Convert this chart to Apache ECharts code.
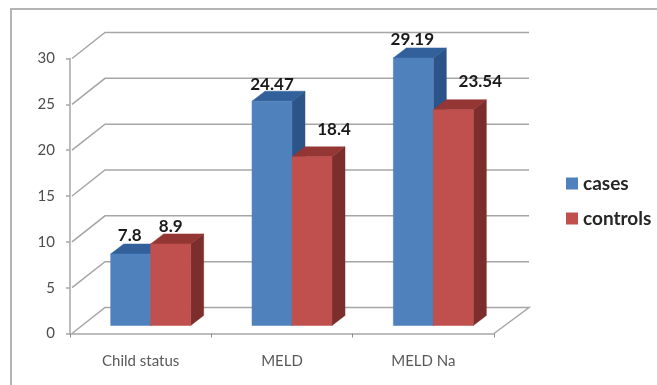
<!DOCTYPE html>
<html>
<head>
<meta charset="utf-8">
<style>
  html, body { margin: 0; padding: 0; background: #fff; }
  #chart { width: 657px; height: 385px; }
</style>
<script src="https://cdn.jsdelivr.net/npm/echarts@6/dist/echarts.min.js"></script>
</head>
<body>
<div id="chart"></div>
<script>
// Scores by group
const categories = ['Child status', 'MELD', 'MELD Na'];
const cases = [7.8, 24.47, 29.19];
const controls = [8.9, 18.4, 23.54];
const yTicks = [0, 5, 10, 15, 20, 25, 30];

// Pseudo-3D projection of the chart box and columns, in pixels
const WALL_DX = 35, WALL_DY = -26;
const BAR_SHIFT_X = 10, BAR_SHIFT_Y = -8;
const BAR_W = 40, BAR_DX = 13, BAR_DY = -10;
const GRID_LINE = { stroke: '#a6a6a6', lineWidth: 1.5 };

const faces = {
  cases:    { front: '#4f81bd', top: '#31609a', side: '#2c5488', labelDx: [-1, 0, -1],  labelDy: [-18, -17, -18] },
  controls: { front: '#c0504d', top: '#943634', side: '#7b2e2c', labelDx: [0, 22, 27], labelDy: [-17, -27, -28] }
};

const FONT = 'Lato';

function renderWall(params, api) {
  const val = api.value(0);
  const xLeft = params.coordSys.x;
  const xRight = xLeft + params.coordSys.width;
  const y = api.coord([0, val])[1];
  const pts = [
    [xLeft + 2, y],
    [xLeft + WALL_DX, y + WALL_DY],
    [xRight + WALL_DX, y + WALL_DY]
  ];
  if (val === 0) pts.push([xRight, y]);
  return {
    type: 'polyline', silent: true,
    shape: { points: pts },
    style: Object.assign({ fill: null }, GRID_LINE)
  };
}

function makeBarRenderer(key, sign) {
  return function (params, api) {
    const f = faces[key];
    const cat = api.value(0), val = api.value(1);
    const top = api.coord([cat, val]);
    const base = api.coord([cat, 0]);
    const x0 = top[0] + BAR_SHIFT_X + (sign < 0 ? -BAR_W : 0);
    const x1 = x0 + BAR_W;
    const yTop = top[1] + BAR_SHIFT_Y;
    const yBase = base[1] + BAR_SHIFT_Y;
    const poly = (points, fill) => ({
      type: 'polygon', shape: { points }, style: { fill, stroke: fill, lineWidth: 0.5 }
    });
    return {
      type: 'group',
      children: [
        poly([[x1, yTop], [x1 + BAR_DX, yTop + BAR_DY], [x1 + BAR_DX, yBase + BAR_DY], [x1, yBase]], f.side),
        poly([[x0, yTop], [x0 + BAR_DX, yTop + BAR_DY], [x1 + BAR_DX, yTop + BAR_DY], [x1, yTop]], f.top),
        poly([[x0, yTop], [x1, yTop], [x1, yBase], [x0, yBase]], f.front),
        {
          type: 'text', z2: 10,
          style: {
            x: (x0 + x1) / 2 + f.labelDx[cat],
            y: yTop + f.labelDy[cat],
            text: String(val),
            fill: '#1a1a1a',
            font: 'bold 17px ' + FONT,
            align: 'center',
            verticalAlign: 'middle'
          }
        }
      ]
    };
  };
}

const chart = echarts.init(document.getElementById('chart'), null, { renderer: 'canvas' });

chart.setOption({
  animation: false,
  backgroundColor: '#fff',
  graphic: [{
    type: 'polyline', silent: true,
    shape: { points: [[11, 390], [11, 9], [665, 9]] },
    style: { fill: null, stroke: '#b4b4b4', lineWidth: 2 }
  }],
  grid: { left: 70, top: 58.5, width: 424, height: 275, containLabel: false },
  xAxis: {
    type: 'category',
    data: categories,
    boundaryGap: true,
    axisLine: { lineStyle: { color: '#a6a6a6', width: 1.5 } },
    axisTick: { show: true, alignWithLabel: false, length: 4, lineStyle: { color: '#8c8c8c', width: 1 } },
    axisLabel: { color: '#595959', fontFamily: FONT, fontSize: 15, margin: 20 },
    splitLine: { show: false }
  },
  yAxis: {
    type: 'value',
    min: 0, max: 30, interval: 5,
    axisLine: { show: true, lineStyle: { color: '#a6a6a6', width: 1.5 } },
    axisTick: { show: true, length: 4, lineStyle: { color: '#a6a6a6', width: 1.5 } },
    axisLabel: { color: '#4d4d4d', fontFamily: FONT, fontSize: 15, margin: 15 },
    splitLine: { show: false }
  },
  legend: {
    orient: 'vertical',
    left: 561, top: 169,
    itemWidth: 12, itemHeight: 12, itemGap: 16,
    icon: 'rect',
    data: ['cases', 'controls'],
    textStyle: { color: '#262626', fontFamily: FONT, fontSize: 19, fontWeight: 'bold' },
    selectedMode: false
  },
  series: [
    {
      name: 'walls', type: 'custom', coordinateSystem: 'cartesian2d',
      data: yTicks.map(v => [v]), encode: { y: 0 },
      renderItem: renderWall, silent: true, z: 1
    },
    {
      name: 'cases', type: 'custom', coordinateSystem: 'cartesian2d',
      data: cases.map((v, i) => [i, v]), encode: { x: 0, y: 1 },
      itemStyle: { color: faces.cases.front },
      renderItem: makeBarRenderer('cases', -1), z: 3
    },
    {
      name: 'controls', type: 'custom', coordinateSystem: 'cartesian2d',
      data: controls.map((v, i) => [i, v]), encode: { x: 0, y: 1 },
      itemStyle: { color: faces.controls.front },
      renderItem: makeBarRenderer('controls', 1), z: 4
    }
  ]
});
</script>
</body>
</html>
